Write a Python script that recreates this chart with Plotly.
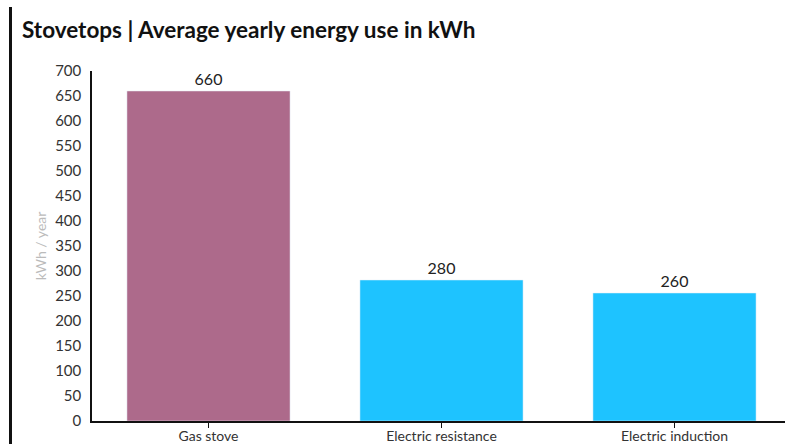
import plotly.graph_objects as go

categories = ["Gas stove", "Electric resistance", "Electric induction"]
values = [660, 282, 256]
value_labels = ["660", "280", "260"]
colors = ["#AD6A8B", "#1EC3FF", "#1EC3FF"]
y_ticks = list(range(0, 701, 50))

W, H = 785, 444
L, R, T, B = 92, 0, 71, 23
pw = W - L - R
ph = H - T - B

fig = go.Figure(go.Bar(
    x=categories, y=values, marker_color=colors, width=0.7,
    text=value_labels, textposition="outside", cliponaxis=False,
    textfont=dict(size=16, color="#222222"),
))

fig.update_layout(
    width=W, height=H,
    margin=dict(l=L, r=R, t=T, b=B),
    plot_bgcolor="white", paper_bgcolor="white",
    font=dict(family="Lato, Open Sans, sans-serif", color="#333333"),
    title=dict(text="<b>Stovetops | Average yearly energy use in kWh</b>",
               x=22 / W, xref="container", xanchor="left",
               y=1 - 30 / H, yref="container", yanchor="middle",
               font=dict(size=22.5, color="#111111")),
    xaxis=dict(range=[-0.5, -0.5 + pw / 233], showline=True, linecolor="#111111",
               linewidth=1.5, ticks="outside", ticklen=5, tickcolor="#111111",
               automargin=False, ticklabelstandoff=-4,
               tickfont=dict(size=14, color="#333333"), showgrid=False),
    yaxis=dict(range=[0, 700], tickvals=y_ticks, showline=True, linecolor="#111111",
               linewidth=1.5, showgrid=False, zeroline=False, ticks="",
               ticklabelstandoff=6, automargin=False,
               tickfont=dict(size=15, color="#333333"),
               title=dict(text="kWh / year", font=dict(size=14, color="#bbbbbb"), standoff=5)),
    showlegend=False,
    shapes=[dict(type="rect", xref="paper", yref="paper",
                 x0=(9 - L) / pw, x1=(12 - L) / pw,
                 y0=-B / ph - 0.01, y1=(H - B - 7) / ph,
                 fillcolor="#111111", line=dict(width=0), layer="above")],
)

fig.write_html("out.html")
